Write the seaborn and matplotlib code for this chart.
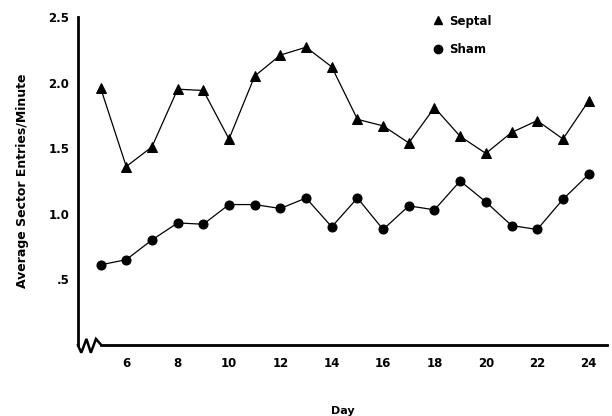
import numpy as np
import pandas as pd
import matplotlib
matplotlib.use("Agg")
import matplotlib.pyplot as plt
from matplotlib.lines import Line2D
import seaborn as sns

# values
days = list(range(5, 25))
septal = [1.96, 1.36, 1.51, 1.95, 1.94, 1.57, 2.05, 2.21, 2.27, 2.12,
          1.72, 1.67, 1.54, 1.81, 1.59, 1.46, 1.62, 1.71, 1.57, 1.86]
sham = [0.61, 0.65, 0.80, 0.93, 0.92, 1.07, 1.07, 1.04, 1.12, 0.90,
        1.12, 0.88, 1.06, 1.03, 1.25, 1.09, 0.91, 0.88, 1.11, 1.30]
groups = ["Septal", "Sham"]
y_ticks = [0.5, 1.0, 1.5, 2.0, 2.5]
y_tick_labels = [".5", "1.0", "1.5", "2.0", "2.5"]
x_major = list(range(6, 25, 2))
x_minor = list(range(7, 24, 2))

df = pd.DataFrame({
    "Day": days * 2,
    "value": septal + sham,
    "group": ["Septal"] * len(days) + ["Sham"] * len(days),
})

sns.set_style("white")
plt.rcParams["font.family"] = ["DejaVu Sans"]
plt.rcParams["font.weight"] = "bold"
plt.rcParams["text.color"] = "black"
plt.rcParams["axes.labelcolor"] = "black"

fig = plt.figure(figsize=(6.12, 4.16), dpi=100)
ax = fig.add_axes([0.127, 0.171, 0.865, 0.788])

sns.lineplot(data=df, x="Day", y="value", style="group",
             markers={"Septal": "^", "Sham": "o"}, dashes=False,
             color="black", linewidth=0.9, markersize=6.5,
             markeredgecolor="black", legend=False, ax=ax)

ax.set_xlim(4.11, 24.72)
ax.set_ylim(0, 2.5)

for s in ["top", "right"]:
    ax.spines[s].set_visible(False)
ax.spines["left"].set_linewidth(2)
ax.spines["left"].set_color("black")
ax.spines["bottom"].set_linewidth(2)
ax.spines["bottom"].set_color("black")
ax.spines["bottom"].set_bounds(5.0, 24.72)

# broken axis zigzag near origin
zx = [4.11, 4.25, 4.45, 4.62, 4.82, 5.02]
zy = [0.0, -0.06, 0.045, -0.06, 0.045, 0.0]
ax.plot(zx, zy, color="black", lw=1.8, clip_on=False, solid_joinstyle="miter")

ax.set_yticks(y_ticks)
ax.set_yticklabels(y_tick_labels)
ax.set_xticks(x_major)
ax.set_xticks(x_minor, minor=True)
ax.tick_params(axis="y", direction="inout", length=8, width=1.8,
               labelsize=8.5, pad=2, colors="black")
ax.tick_params(axis="x", which="major", direction="inout", length=12,
               width=1.8, labelsize=8.5, pad=3, colors="black")
ax.tick_params(axis="x", which="minor", direction="inout", length=7,
               width=1.8, colors="black")
for lab in ax.get_xticklabels() + ax.get_yticklabels():
    lab.set_fontweight("bold")

ax.set_xlabel("Day", fontsize=8, fontweight="bold", labelpad=26, color="black")
ax.set_ylabel("Average Sector Entries/Minute", fontsize=9,
              fontweight="bold", labelpad=14, color="black")

handles = [Line2D([], [], marker="^", color="black", linestyle="none", markersize=6),
           Line2D([], [], marker="o", color="black", linestyle="none", markersize=6)]
leg = ax.legend(handles, groups, loc="upper left", bbox_to_anchor=(0.65, 1.04),
                frameon=False, labelspacing=1.3, handletextpad=0.4,
                handlelength=1.0, prop={"size": 8.5, "weight": "bold"})
for t in leg.get_texts():
    t.set_color("black")

fig.savefig("out.png", dpi=100)
